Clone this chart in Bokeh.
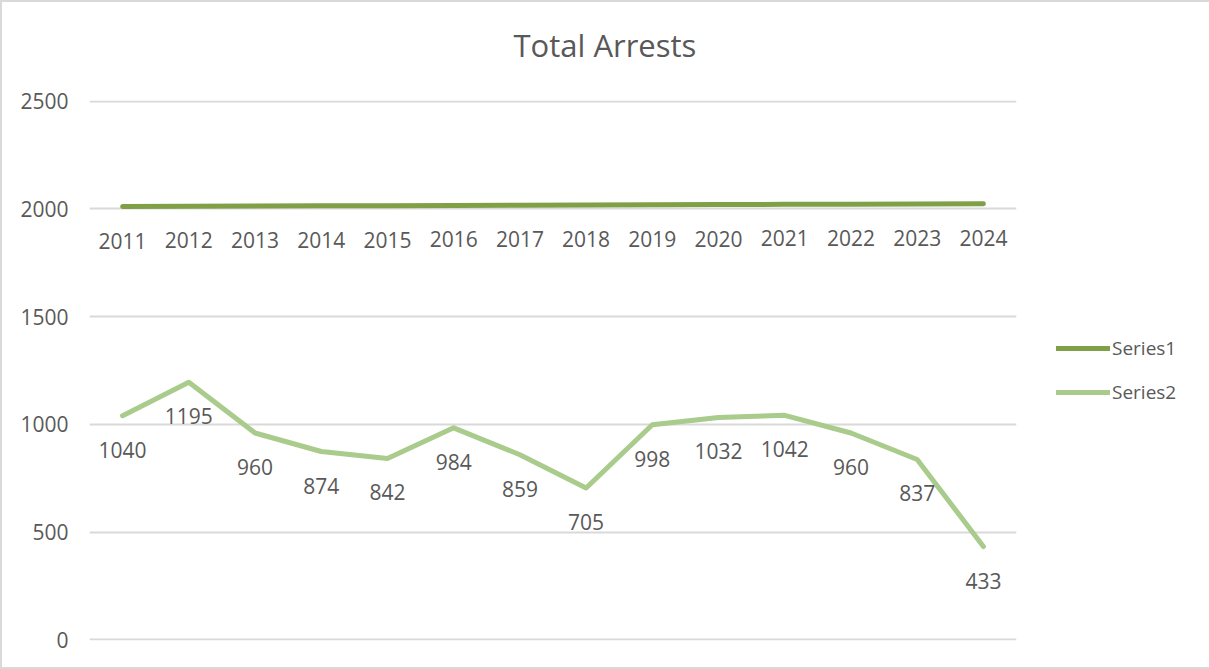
from bokeh.plotting import figure
from bokeh.models import Range1d, Legend, LegendItem, FixedTicker, Title
from bokeh.core.properties import value
from bokeh.embed import file_html
from bokeh.resources import INLINE

# ---- data ----
years = ["2011", "2012", "2013", "2014", "2015", "2016", "2017",
         "2018", "2019", "2020", "2021", "2022", "2023", "2024"]
series1 = [2011, 2012, 2013, 2014, 2015, 2016, 2017,
           2018, 2019, 2020, 2021, 2022, 2023, 2024]
series2 = [1040, 1195, 960, 874, 842, 984, 859,
           705, 998, 1032, 1042, 960, 837, 433]
y_ticks = [0, 500, 1000, 1500, 2000, 2500]
series_names = ["Series1", "Series2"]
title_text = "Total Arrests"

FONT = "Open Sans"
TXT = "#595959"
C1 = "#7FA046"
C2 = "#A9CB8B"

x = list(range(len(years)))

p = figure(frame_width=927, frame_height=540, output_backend="svg", toolbar_location=None,
           title=None,
           x_range=Range1d(-0.5, len(years) - 0.5),
           y_range=Range1d(y_ticks[0] - 3, y_ticks[-1] + 3),
           x_axis_location=None,
           min_border_left=89, min_border_right=193, min_border_top=100, min_border_bottom=29)
p.outline_line_color = None
p.background_fill_color = "white"
p.border_fill_color = None
p.stylesheets = [":host { background: white; outline: 1px solid #d9d9d9; outline-offset: -2px; "
                 "box-shadow: inset 0 0 0 1px #d9d9d9; }"]

# invisible spacer between frame and title (keeps the title high without enlarging the top border)
spacer = Title(text=" ", text_font_size="1px", standoff=32, text_color="white")
p.add_layout(spacer, "above")
main_title = Title(text=title_text, align="left", offset=424, standoff=0,
                   text_font=FONT, text_font_size="31px", text_color=TXT,
                   text_font_style="normal")
p.add_layout(main_title, "above")

p.xgrid.grid_line_color = None
p.ygrid.ticker = FixedTicker(ticks=y_ticks)
p.ygrid.grid_line_color = "#d9d9d9"
p.ygrid.grid_line_width = 2

p.yaxis.ticker = FixedTicker(ticks=y_ticks)
p.yaxis.axis_line_color = None
p.yaxis.major_tick_line_color = None
p.yaxis.minor_tick_line_color = None
p.yaxis.major_tick_out = 0
p.yaxis.major_label_standoff = 21
p.yaxis.major_label_text_font = FONT
p.yaxis.major_label_text_font_size = "21px"
p.yaxis.major_label_text_color = TXT

r1 = p.line(x, series1, line_color=C1, line_width=5, line_cap="round", line_join="round")
r2 = p.line(x, series2, line_color=C2, line_width=5, line_cap="round", line_join="round")

for vals in (series1, series2):
    p.text(x=x, y=vals, text=[str(v) for v in vals], y_offset=34,
           text_align="center", text_baseline="middle",
           text_font=value(FONT), text_font_size="21px", text_color=TXT)

legend = Legend(items=[LegendItem(label=series_names[0], renderers=[r1]),
                       LegendItem(label=series_names[1], renderers=[r2])],
                location=(40, 235), orientation="vertical",
                glyph_width=54, glyph_height=26, spacing=18, label_standoff=2,
                padding=0, margin=0, border_line_color=None, background_fill_alpha=0,
                label_text_font=FONT, label_text_font_size="19px", label_text_color=TXT)
p.add_layout(legend, "right")

open("out.html", "w").write(file_html(p, INLINE))
